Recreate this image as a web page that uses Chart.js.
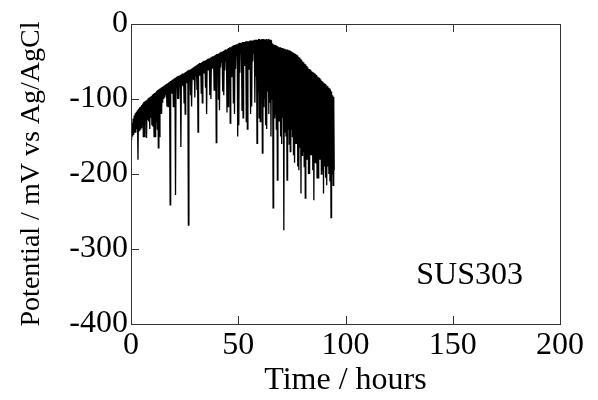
<!DOCTYPE html>
<html>
<head>
<meta charset="utf-8">
<script src="https://cdn.jsdelivr.net/npm/chart.js@4"></script>
<style>
  html, body { margin: 0; padding: 0; background: #fff; }
  #wrap { width: 598px; height: 400px; position: relative; }
</style>
</head>
<body>
<div id="wrap"><canvas id="potChart" width="598" height="400"></canvas></div>
<script>
const hours = [
  0, 0.25, 0.5, 0.75, 1, 1.25, 1.5, 1.75, 2, 2.25, 2.5, 2.75, 3, 3.25, 3.5, 3.75,
  4, 4.25, 4.5, 4.75, 5, 5.25, 5.5, 5.75, 6, 6.25, 6.5, 6.75, 7, 7.25, 7.5, 7.75,
  8, 8.25, 8.5, 8.75, 9, 9.25, 9.5, 9.75, 10, 10.25, 10.5, 10.75, 11, 11.25, 11.5, 11.75,
  12, 12.25, 12.5, 12.75, 13, 13.25, 13.5, 13.75, 14, 14.25, 14.5, 14.75, 15, 15.25, 15.5, 15.75,
  16, 16.25, 16.5, 16.75, 17, 17.25, 17.5, 17.75, 18, 18.25, 18.5, 18.75, 19, 19.25, 19.5, 19.75,
  20, 20.25, 20.5, 20.75, 21, 21.25, 21.5, 21.75, 22, 22.25, 22.5, 22.75, 23, 23.25, 23.5, 23.75,
  24, 24.25, 24.5, 24.75, 25, 25.25, 25.5, 25.75, 26, 26.25, 26.5, 26.75, 27, 27.25, 27.5, 27.75,
  28, 28.25, 28.5, 28.75, 29, 29.25, 29.5, 29.75, 30, 30.25, 30.5, 30.75, 31, 31.25, 31.5, 31.75,
  32, 32.25, 32.5, 32.75, 33, 33.25, 33.5, 33.75, 34, 34.25, 34.5, 34.75, 35, 35.25, 35.5, 35.75,
  36, 36.25, 36.5, 36.75, 37, 37.25, 37.5, 37.75, 38, 38.25, 38.5, 38.75, 39, 39.25, 39.5, 39.75,
  40, 40.25, 40.5, 40.75, 41, 41.25, 41.5, 41.75, 42, 42.25, 42.5, 42.75, 43, 43.25, 43.5, 43.75,
  44, 44.25, 44.5, 44.75, 45, 45.25, 45.5, 45.75, 46, 46.25, 46.5, 46.75, 47, 47.25, 47.5, 47.75,
  48, 48.25, 48.5, 48.75, 49, 49.25, 49.5, 49.75, 50, 50.25, 50.5, 50.75, 51, 51.25, 51.5, 51.75,
  52, 52.25, 52.5, 52.75, 53, 53.25, 53.5, 53.75, 54, 54.25, 54.5, 54.75, 55, 55.25, 55.5, 55.75,
  56, 56.25, 56.5, 56.75, 57, 57.25, 57.5, 57.75, 58, 58.25, 58.5, 58.75, 59, 59.25, 59.5, 59.75,
  60, 60.25, 60.5, 60.75, 61, 61.25, 61.5, 61.75, 62, 62.25, 62.5, 62.75, 63, 63.25, 63.5, 63.75,
  64, 64.25, 64.5, 64.75, 65, 65.25, 65.5, 65.75, 66, 66.25, 66.5, 66.75, 67, 67.25, 67.5, 67.75,
  68, 68.25, 68.5, 68.75, 69, 69.25, 69.5, 69.75, 70, 70.25, 70.5, 70.75, 71, 71.25, 71.5, 71.75,
  72, 72.25, 72.5, 72.75, 73, 73.25, 73.5, 73.75, 74, 74.25, 74.5, 74.75, 75, 75.25, 75.5, 75.75,
  76, 76.25, 76.5, 76.75, 77, 77.25, 77.5, 77.75, 78, 78.25, 78.5, 78.75, 79, 79.25, 79.5, 79.75,
  80, 80.25, 80.5, 80.75, 81, 81.25, 81.5, 81.75, 82, 82.25, 82.5, 82.75, 83, 83.25, 83.5, 83.75,
  84, 84.25, 84.5, 84.75, 85, 85.25, 85.5, 85.75, 86, 86.25, 86.5, 86.75, 87, 87.25, 87.5, 87.75,
  88, 88.25, 88.5, 88.75, 89, 89.25, 89.5, 89.75, 90, 90.25, 90.5, 90.75, 91, 91.25, 91.5, 91.75,
  92, 92.25, 92.5, 92.75, 93, 93.25, 93.5, 93.75, 94, 94.25, 94.5, 94.75
];
const potential = [
  -140, -155, -132, -150, -126, -148, -122, -145, -119, -145, -117, -140, -115, -181, -113, -142,
  -111, -140, -110, -138, -108, -135, -106, -150, -104, -150, -103, -130, -102, -152, -101, -128,
  -99, -130, -98, -140, -97, -125, -96, -135, -94, -137, -93, -150, -92, -150, -91, -130,
  -89, -140, -88, -165, -87, -150, -86, -120, -85, -120, -84, -105, -83, -100, -82, -98,
  -81, -95, -80, -110, -79, -110, -78, -94, -77, -241, -76, -92, -75, -92, -74, -110,
  -73, -88, -72, -228, -71, -86, -70, -100, -69, -100, -69, -84, -68, -164, -67, -82,
  -66, -82, -66, -105, -65, -120, -64, -78, -63, -78, -62, -268, -61, -76, -61, -95,
  -60, -110, -59, -74, -58, -75, -57, -98, -56, -70, -55, -88, -54, -144, -53, -68,
  -52, -68, -52, -92, -51, -105, -50, -65, -49, -64, -49, -85, -48, -120, -47, -62,
  -46, -62, -46, -95, -45, -100, -44, -60, -43, -58, -43, -88, -42, -70, -41, -158,
  -40, -56, -40, -100, -39, -115, -38, -58, -37, -52, -37, -90, -36, -95, -35, -62,
  -34, -50, -34, -118, -33, -110, -32, -55, -31, -132, -31, -70, -30, -45, -29, -105,
  -28, -120, -28, -60, -27, -42, -27, -150, -26, -135, -25, -65, -25, -40, -25, -115,
  -24, -125, -24, -55, -24, -38, -23, -130, -23, -140, -23, -60, -23, -40, -22, -120,
  -22, -110, -22, -50, -22, -40, -21, -105, -21, -70, -21, -159, -21, -90, -20, -125,
  -20, -130, -21, -95, -20, -172, -20, -110, -20, -100, -21, -135, -20, -140, -22, -90,
  -20, -120, -21, -105, -21, -150, -22, -100, -26, -245, -27, -125, -28, -120, -28, -140,
  -29, -208, -30, -130, -31, -130, -31, -150, -32, -160, -32, -125, -33, -275, -33, -145,
  -34, -150, -34, -208, -34, -140, -35, -160, -35, -170, -36, -140, -37, -150, -38, -175,
  -39, -185, -40, -160, -41, -160, -42, -190, -44, -195, -45, -165, -47, -226, -48, -175,
  -50, -170, -51, -190, -53, -232, -54, -180, -56, -180, -58, -200, -60, -200, -61, -175,
  -63, -175, -64, -195, -65, -235, -66, -185, -67, -185, -68, -205, -70, -205, -71, -180,
  -72, -180, -74, -200, -76, -195, -77, -226, -79, -190, -80, -205, -82, -215, -83, -190,
  -85, -200, -86, -210, -88, -258, -90, -200, -95, -215, -97, -195
];
const xTicks = [0, 50, 100, 150, 200];
const yTicks = [0, -100, -200, -300, -400];
const sampleLabel = 'SUS303';

const serif = '"Liberation Serif", "DejaVu Serif", serif';

// frame with inward ticks, plus the sample label
const framePlugin = {
    id: 'frame',
    afterDraw(chart) {
        const { ctx, chartArea: a, scales } = chart;
        const xs = scales.x, ys = scales.y;
        ctx.save();
        ctx.strokeStyle = '#333';
        ctx.lineWidth = 1;
        ctx.strokeRect(a.left + 0.5, a.top + 0.5, a.right - a.left, a.bottom - a.top);
        ctx.beginPath();
        xTicks.slice(1, -1).forEach(v => {
            const px = Math.round(xs.getPixelForValue(v)) + 0.5;
            ctx.moveTo(px, a.top); ctx.lineTo(px, a.top + 8);
            ctx.moveTo(px, a.bottom); ctx.lineTo(px, a.bottom - 8);
        });
        yTicks.slice(1, -1).forEach(v => {
            const py = Math.round(ys.getPixelForValue(v)) + 0.5;
            ctx.moveTo(a.left, py); ctx.lineTo(a.left + 8, py);
        });
        ctx.stroke();

        ctx.fillStyle = '#000';
        ctx.font = '32px ' + serif;
        ctx.textBaseline = 'middle';
        ctx.fillText(sampleLabel, xs.getPixelForValue(133), ys.getPixelForValue(-336));
        ctx.restore();
    }
};

const ctx = document.getElementById('potChart').getContext('2d');
new Chart(ctx, {
    type: 'line',
    data: {
        datasets: [{
            data: hours.map((h, i) => ({ x: h, y: potential[i] })),
            borderColor: '#000',
            borderWidth: 1.3,
            pointRadius: 0,
            tension: 0,
            fill: false
        }]
    },
    options: {
        responsive: false,
        animation: false,
        layout: { padding: { left: 0, right: 38, top: 24, bottom: 0 } },
        plugins: { legend: { display: false }, tooltip: { enabled: false } },
        scales: {
            x: {
                type: 'linear',
                min: 0,
                max: 200,
                afterFit: scale => { scale.height = 76; },
                afterBuildTicks: scale => { scale.ticks = xTicks.map(v => ({ value: v })); },
                grid: { display: false, drawTicks: false },
                border: { display: false },
                ticks: { color: '#000', font: { family: serif, size: 32 }, padding: 2, maxRotation: 0 },
                title: {
                    display: true,
                    text: 'Time / hours',
                    color: '#000',
                    font: { family: serif, size: 32 },
                    padding: { top: 0, bottom: 0 }
                }
            },
            y: {
                type: 'linear',
                min: -400,
                max: 0,
                afterFit: scale => { scale.width = 131; },
                afterBuildTicks: scale => { scale.ticks = yTicks.map(v => ({ value: v })); },
                grid: { display: false, drawTicks: false },
                border: { display: false },
                ticks: { color: '#000', font: { family: serif, size: 32 }, padding: 3 },
                title: {
                    display: true,
                    text: 'Potential / mV vs Ag/AgCl',
                    color: '#000',
                    font: { family: serif, size: 28 },
                    padding: { top: 15, bottom: 0 }
                }
            }
        }
    },
    plugins: [framePlugin]
});
</script>
</body>
</html>
